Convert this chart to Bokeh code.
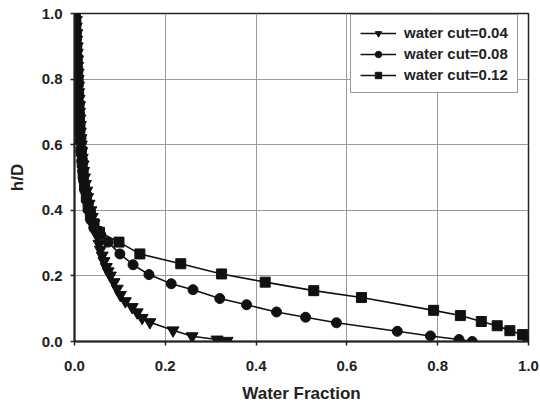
from bokeh.plotting import figure
from bokeh.models import Range1d, FixedTicker, PrintfTickFormatter, Legend, LegendItem
from bokeh.embed import file_html
from bokeh.resources import INLINE

# Water fraction vs. dimensionless height h/D for three water cuts
hd_wc04 = [1.00, 0.98, 0.96, 0.94, 0.92, 0.90, 0.88, 0.86, 0.84, 0.82, 0.80, 0.78,
           0.76, 0.74, 0.72, 0.70, 0.68, 0.66, 0.64, 0.62, 0.60, 0.58, 0.56, 0.54,
           0.52, 0.50, 0.48, 0.46, 0.44, 0.42, 0.40, 0.38, 0.36, 0.34, 0.32, 0.298,
           0.28, 0.262, 0.245, 0.227, 0.214, 0.201, 0.181, 0.161, 0.142, 0.123,
           0.105, 0.089, 0.072, 0.059, 0.034, 0.016, 0.006, 0.002]
wf_wc04 = [0.003, 0.004, 0.004, 0.005, 0.005, 0.006, 0.006, 0.007, 0.007, 0.008, 0.008, 0.009,
           0.009, 0.010, 0.011, 0.011, 0.012, 0.013, 0.013, 0.014, 0.015, 0.016, 0.017, 0.019,
           0.020, 0.022, 0.024, 0.027, 0.029, 0.032, 0.036, 0.039, 0.043, 0.047, 0.051, 0.054,
           0.057, 0.061, 0.065, 0.070, 0.074, 0.079, 0.087, 0.094, 0.101, 0.112,
           0.127, 0.138, 0.149, 0.166, 0.217, 0.259, 0.314, 0.336]

hd_wc08 = [1.00, 0.97, 0.94, 0.91, 0.88, 0.85, 0.82, 0.79, 0.76, 0.73, 0.70, 0.67,
           0.64, 0.61, 0.58, 0.55, 0.52, 0.49, 0.46, 0.43, 0.40, 0.37, 0.345, 0.325,
           0.303, 0.267, 0.234, 0.204, 0.176, 0.158, 0.131, 0.112, 0.090, 0.074,
           0.057, 0.031, 0.017, 0.006, 0.000]
wf_wc08 = [0.001, 0.002, 0.003, 0.003, 0.004, 0.005, 0.006, 0.006, 0.007, 0.008, 0.009, 0.010,
           0.011, 0.012, 0.014, 0.016, 0.018, 0.020, 0.023, 0.027, 0.031, 0.036, 0.043, 0.058,
           0.074, 0.100, 0.129, 0.164, 0.213, 0.261, 0.320, 0.379, 0.445, 0.509,
           0.577, 0.711, 0.784, 0.847, 0.876]

hd_wc12 = [1.00, 0.965, 0.93, 0.895, 0.86, 0.825, 0.79, 0.755, 0.72, 0.685, 0.65, 0.615,
           0.58, 0.545, 0.51, 0.475, 0.44, 0.41, 0.385, 0.359, 0.333, 0.303, 0.267,
           0.237, 0.206, 0.181, 0.155, 0.134, 0.095, 0.079, 0.061, 0.048, 0.033,
           0.021, 0.000]
wf_wc12 = [0.002, 0.003, 0.004, 0.005, 0.006, 0.007, 0.008, 0.009, 0.010, 0.011, 0.012, 0.014,
           0.015, 0.017, 0.019, 0.022, 0.026, 0.030, 0.035, 0.043, 0.055, 0.098, 0.144,
           0.234, 0.324, 0.420, 0.527, 0.632, 0.791, 0.850, 0.896, 0.931, 0.959,
           0.987, 0.999]

labels = ["water cut=0.04", "water cut=0.08", "water cut=0.12"]
axis_ticks = [0.0, 0.2, 0.4, 0.6, 0.8, 1.0]

FONT = "Liberation Sans"
INK = "#111111"
TEXT = "#222222"

p = figure(width=540, height=412, output_backend="svg", toolbar_location=None,
           x_range=Range1d(0, 1), y_range=Range1d(0, 1),
           min_border_left=74, min_border_right=12, min_border_top=13, min_border_bottom=71)
p.background_fill_color = "white"
p.border_fill_color = "white"
p.outline_line_color = "#222222"
p.outline_line_width = 1.5

for ax in (p.xaxis[0], p.yaxis[0]):
    ax.ticker = FixedTicker(ticks=axis_ticks)
    ax.formatter = PrintfTickFormatter(format="%.1f")
    ax.minor_tick_line_color = None
    ax.major_tick_in = 0
    ax.major_tick_out = 4
    ax.major_tick_line_color = "#222222"
    ax.major_tick_line_width = 1.5
    ax.axis_line_color = "#222222"
    ax.axis_line_width = 2
    ax.major_label_text_font = FONT
    ax.major_label_text_font_style = "bold"
    ax.major_label_text_font_size = "15px"
    ax.major_label_text_color = TEXT
    ax.axis_label_text_font = FONT
    ax.axis_label_text_font_style = "bold"
    ax.axis_label_text_font_size = "17px"
    ax.axis_label_text_color = TEXT

p.xaxis.axis_label = "Water Fraction"
p.yaxis.axis_label = "h/D"
p.xaxis.major_label_standoff = 15
p.yaxis.major_label_standoff = 8
p.xaxis.axis_label_standoff = 10
p.yaxis.axis_label_standoff = 12

p.xgrid.ticker = FixedTicker(ticks=axis_ticks)
p.ygrid.ticker = FixedTicker(ticks=axis_ticks)
p.grid.grid_line_color = "#9a9a9a"
p.grid.grid_line_width = 1

series = [
    (wf_wc04, hd_wc04, "inverted_triangle", 12),
    (wf_wc08, hd_wc08, "circle", 10),
    (wf_wc12, hd_wc12, "square", 10),
]

items = []
for (xs, ys, marker, size), label in zip(series, labels):
    ln = p.line(xs, ys, line_color=INK, line_width=1.6)
    sc = p.scatter(xs, ys, marker=marker, size=size, fill_color=INK, line_color=INK)
    items.append(LegendItem(label=label, renderers=[ln, sc]))

legend = Legend(items=items, location=(276, 248))
legend.label_text_font = FONT
legend.label_text_font_style = "bold"
legend.label_text_font_size = "15px"
legend.label_text_color = TEXT
legend.glyph_width = 36
legend.glyph_height = 16
legend.label_height = 16
legend.label_standoff = 8
legend.spacing = 4
legend.padding = 9
legend.margin = 0
legend.border_line_color = "#333333"
legend.border_line_width = 1
legend.background_fill_color = "white"
legend.background_fill_alpha = 1
p.add_layout(legend, "center")

open("out.html", "w").write(file_html(p, INLINE))
